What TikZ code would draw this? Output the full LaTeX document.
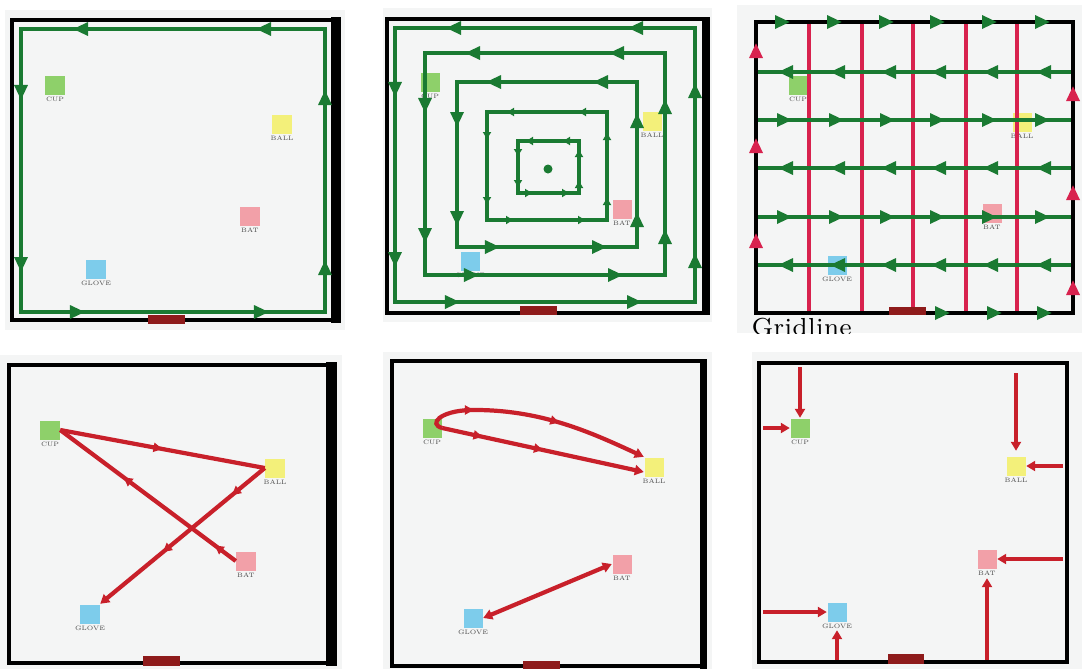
\documentclass[tikz,border=0pt]{standalone}
\usetikzlibrary{arrows.meta,decorations.markings}
\definecolor{bggray}{HTML}{F4F5F5}
\definecolor{cupc}{HTML}{8ED06A}
\definecolor{ballc}{HTML}{F3F07A}
\definecolor{batc}{HTML}{F2A0A8}
\definecolor{glovec}{HTML}{7DCCEB}
\definecolor{doorc}{HTML}{8E1B1B}
\definecolor{pathg}{HTML}{1A7A32}
\definecolor{pathr}{HTML}{C8202A}
\definecolor{gridr}{HTML}{D8224E}
\tikzset{
  wall/.style={draw=black,line width=1.2pt},
  door/.style={fill=doorc},
  obj/.style={inner sep=0pt,minimum size=0.19cm,label distance=0.3pt},
  lbl/.style={font=\fontsize{1.8}{2}\selectfont,inner sep=0.2pt,text=black!70},
  cup/.style={obj,fill=cupc,label={[lbl]below:CUP}},
  ball/.style={obj,fill=ballc,label={[lbl]below:BALL}},
  bat/.style={obj,fill=batc,label={[lbl]below:BAT}},
  glove/.style={obj,fill=glovec,label={[lbl]below:GLOVE}},
  gline/.style={draw=pathg,line width=0.9pt},
  gtip/.style={-{Triangle[length=1.5mm,width=1.3mm]},pathg,line width=0.9pt},
  gsmall/.style={-{Triangle[length=0.7mm,width=0.8mm]},pathg,line width=0.9pt},
  redtip/.style={-{Triangle[length=1.5mm,width=1.3mm]},gridr,line width=0.9pt},
  rline/.style={pathr,line width=1.2pt},
  rtip/.style={-{Triangle[length=0.9mm,width=1mm]}},
  rmid/.style={postaction=decorate,decoration={markings,
    mark=at position #1 with {\arrow{Triangle[length=0.9mm,width=0.9mm]}}}},
  rmidd/.style 2 args={postaction=decorate,decoration={markings,
    mark=at position #1 with {\arrow{Triangle[length=0.9mm,width=0.9mm]}},
    mark=at position #2 with {\arrow{Triangle[length=0.9mm,width=0.9mm]}}}},
}
\begin{document}
\begin{tikzpicture}[x=0.01cm,y=-0.01cm]
\useasboundingbox (0,0) rectangle (1082,669);
% panel backgrounds
\fill[bggray] (5,10) rectangle (345,330);
\fill[bggray] (383,8) rectangle (712,322);
\fill[bggray] (737,5) rectangle (1082,333);
\fill[bggray] (0,355) rectangle (342,669);
\fill[bggray] (383,352) rectangle (712,669);
\fill[bggray] (752,352) rectangle (1082,669);

% boundary walk
\draw[wall] (12,20) rectangle (333,320);
\fill (331,17) rectangle (341,323);
\fill[door] (148,315) rectangle (185,324);
\node[cup] (p1cup) at (55,85) {};
\node[ball] (p1ball) at (282,124) {};
\node[bat] (p1bat) at (250,216) {};
\node[glove] (p1glove) at (96,269) {};
\draw[gline] (21,29) rectangle (325,312);
\foreach \x in {80,263} \draw[gtip] (\x+8,29) -- (\x-7,29);
\foreach \x in {78,262} \draw[gtip] (\x-8,312) -- (\x+7,312);
\foreach \y in {93,265} \draw[gtip] (21,\y-8) -- (21,\y+7);
\foreach \y in {97,267} \draw[gtip] (325,\y+8) -- (325,\y-7);

% spiral walk
\draw[wall] (387,19) rectangle (704,313);
\fill (702,17) rectangle (710,315);
\fill[door] (520,306) rectangle (557,315);
\node[cup] (p2cup) at (430,82) {};
\node[ball] (p2ball) at (652,121) {};
\node[bat] (p2bat) at (622,209) {};
\node[glove] (p2glove) at (470,261) {};
\foreach \l/\r/\t/\b/\xa/\xb/\ya/\yb in {395/695/28/302/453/635/90/260,
    425/665/53/275/472/616/106/236, 457/637/82/247/493/600/120/219}{
  \draw[gline] (\l,\t) rectangle (\r,\b);
  \draw[gtip] (\xa+8,\t) -- (\xa-7,\t);
  \draw[gtip] (\xb+8,\t) -- (\xb-7,\t);
  \draw[gtip] (\xa-8,\b) -- (\xa+7,\b);
  \draw[gtip] (\xb-8,\b) -- (\xb+7,\b);
  \draw[gtip] (\l,\ya-8) -- (\l,\ya+7);
  \draw[gtip] (\l,\yb-8) -- (\l,\yb+7);
  \draw[gtip] (\r,\ya+8) -- (\r,\ya-7);
  \draw[gtip] (\r,\yb+8) -- (\r,\yb-7);
}
\foreach \l/\r/\t/\b/\xa/\xb/\ya/\yb in {487/607/112/220/510/582/136/201,
    518/579/141/193/529/566/153/184}{
  \draw[gline] (\l,\t) rectangle (\r,\b);
  \draw[gsmall] (\xa+4,\t) -- (\xa-3,\t);
  \draw[gsmall] (\xb+4,\t) -- (\xb-3,\t);
  \draw[gsmall] (\xa-4,\b) -- (\xa+3,\b);
  \draw[gsmall] (\xb-4,\b) -- (\xb+3,\b);
  \draw[gsmall] (\l,\ya-4) -- (\l,\ya+3);
  \draw[gsmall] (\l,\yb-4) -- (\l,\yb+3);
  \draw[gsmall] (\r,\ya+4) -- (\r,\ya-3);
  \draw[gsmall] (\r,\yb+4) -- (\r,\yb-3);
}
\fill[pathg] (548,169) circle (0.45mm);

% gridline walk
\node[cup] (p3cup) at (798,85) {};
\node[ball] (p3ball) at (1022,122) {};
\node[bat] (p3bat) at (992,213) {};
\node[glove] (p3glove) at (837,265) {};
\foreach \x in {809,862,913,966,1017} \draw[gridr,line width=0.9pt] (\x,22) -- (\x,313);
\draw[black,line width=1pt] (756,22) rectangle (1073,313);
\fill[door] (889,307) rectangle (926,315);
\foreach \y/\d in {72/-1,120/1,168/-1,217/1,265/-1}{
  \draw[gline] (758,\y) -- (1071,\y);
  \foreach \x in {785,837,888,938,990,1043} \draw[gtip] (\x-8*\d,\y) -- (\x+7*\d,\y);
}
\foreach \x in {783,835,887,938,990,1043} \draw[gtip] (\x-8,22) -- (\x+7,22);
\foreach \x in {943,995,1045} \draw[gtip] (\x-8,313) -- (\x+7,313);
\foreach \y in {50,145,240} \draw[redtip] (756,\y+8) -- (756,\y-7);
\foreach \y in {93,192,287} \draw[redtip] (1073,\y+8) -- (1073,\y-7);
\begin{scope}
  \clip (737,5) rectangle (1082,333);
  \node[font=\fontsize{7}{8}\selectfont,anchor=north west,inner sep=0pt] (gridname) at (751,317) {Gridline};
\end{scope}

% visiting order
\draw[wall] (9,365) rectangle (328,663);
\fill (326,362) rectangle (337,666);
\fill[door] (143,656) rectangle (180,666);
\node[cup] (p4cup) at (50,430) {};
\node[ball] (p4ball) at (275,468) {};
\node[bat] (p4bat) at (246,561) {};
\node[glove] (p4glove) at (90,614) {};
\draw[rline,rmidd={0.12}{0.64}] (p4bat.west) -- (p4cup.east);
\draw[rline,rmid=0.5] (p4cup.east) -- (p4ball.west);
\draw[rline,rmidd={0.2}{0.62},rtip] (p4ball.west) -- (p4glove.north east);

% loop route
\draw[wall] (392,361) rectangle (702,666);
\fill (700,359) rectangle (707,669);
\fill[door] (523,661) rectangle (560,669);
\node[cup] (p5cup) at (432,428) {};
\node[ball] (p5ball) at (654,467) {};
\node[bat] (p5bat) at (622,564) {};
\node[glove] (p5glove) at (473,618) {};
\coordinate (p5top) at (470,410);
\draw[rline,rmidd={0.2}{0.5},rtip] (p5cup.east) -- ([yshift=-0.5mm]p5ball.west);
\draw[rline,rmidd={0.22}{0.6},rtip] (p5cup.east) .. controls (428,424) and (440,411) .. (p5top)
  .. controls (540,409) and (590,432) .. (p5ball.north west);
\draw[rline,{Triangle[length=0.9mm,width=1mm]}-{Triangle[length=0.9mm,width=1mm]}] (p5glove.east) -- (p5bat.west);

% wall approach
\draw[wall] (759,363) rectangle (1067,662);
\fill[door] (888,654) rectangle (924,664);
\node[cup] (p6cup) at (800,428) {};
\node[ball] (p6ball) at (1016,466) {};
\node[bat] (p6bat) at (987,559) {};
\node[glove] (p6glove) at (837,612) {};
\coordinate (w1) at (800,367);
\coordinate (w2) at (763,428);
\coordinate (w3) at (1016,373);
\coordinate (w4) at (1063,466);
\coordinate (w5) at (1063,559);
\coordinate (w6) at (987,660);
\coordinate (w7) at (763,612);
\coordinate (w8) at (837,660);
\draw[rline,rtip] (w1) -- (p6cup.north);
\draw[rline,rtip] (w2) -- (p6cup.west);
\draw[rline,rtip,shorten >=0.5mm] (w3) -- (p6ball.north);
\draw[rline,rtip] (w4) -- (p6ball.east);
\draw[rline,rtip] (w5) -- (p6bat.east);
\draw[rline,rtip,shorten >=0.9mm] (w6) -- (p6bat.south);
\draw[rline,rtip] (w7) -- (p6glove.west);
\draw[rline,rtip,shorten >=0.8mm] (w8) -- (p6glove.south);
\end{tikzpicture}
\end{document}
